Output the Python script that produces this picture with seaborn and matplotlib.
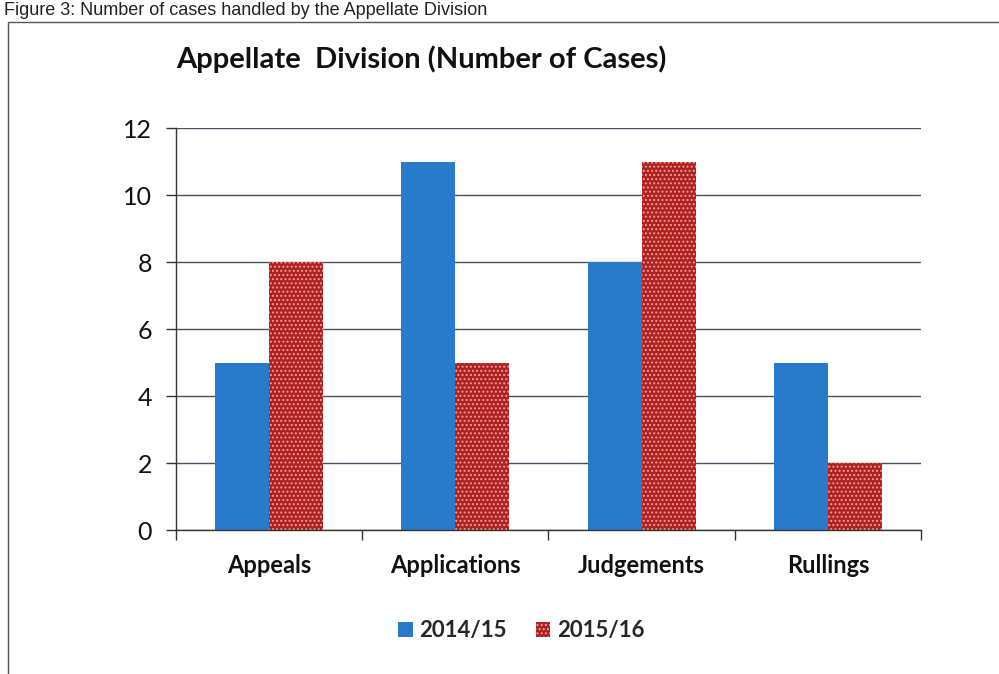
import matplotlib
matplotlib.use("Agg")
import matplotlib.pyplot as plt
import seaborn as sns
import pandas as pd
from matplotlib.patches import Patch, Rectangle

categories = ["Appeals", "Applications", "Judgements", "Rullings"]
series_names = ["2014/15", "2015/16"]
values_2014 = [5, 11, 8, 5]
values_2015 = [8, 5, 11, 2]
y_ticks = [0, 2, 4, 6, 8, 10, 12]
title = "Appellate  Division (Number of Cases)"
caption = "Figure 3: Number of cases handled by the Appellate Division"

df = pd.DataFrame({
    "category": categories * 2,
    "series": [series_names[0]] * 4 + [series_names[1]] * 4,
    "value": values_2014 + values_2015,
})

sns.set_theme(style="white")
plt.rcParams['font.family'] = ['Lato', 'DejaVu Sans']
plt.rcParams['hatch.linewidth'] = 0.9

BLUE = "#2a7acb"
RED = "#b02028"
DOT = "#f0a880"

fig = plt.figure(figsize=(9.99, 6.74), dpi=100)
ax = fig.add_axes([0.176, 0.2136, 0.746, 0.5964])

sns.barplot(data=df, x="category", y="value", hue="series",
            palette=[BLUE, RED], width=0.58, saturation=1, ax=ax,
            legend=False, linewidth=0)

for p in ax.patches:
    fc = p.get_facecolor()
    if fc[0] > 0.5:
        p.set_hatch("....")
        p.set_edgecolor(DOT)
        p.set_linewidth(0)

ax.set_ylim(0, 12)
ax.set_xlim(-0.5, 3.5)
ax.set_yticks(y_ticks)
ax.set_yticklabels([str(t) for t in y_ticks], fontsize=18, color="#111111")
ax.yaxis.grid(True, color="#4a5060", linewidth=1.0)
ax.set_axisbelow(True)
ax.set_xlabel("")
ax.set_ylabel("")

ax.set_xticks(range(len(categories)))
ax.set_xticklabels(categories, fontsize=17, fontweight="bold", color="#111111")
ax.set_xticks([-0.5, 0.5, 1.5, 2.5, 3.5], minor=True)
ax.tick_params(axis="x", which="major", length=0, pad=17)
ax.tick_params(axis="x", which="minor", length=7, width=1, color="#333333", direction="out", bottom=True)
ax.tick_params(axis="y", which="major", length=7, width=1, color="#333333", direction="out", left=True, pad=10)

for s in ["top", "right"]:
    ax.spines[s].set_visible(False)
for s in ["left", "bottom"]:
    ax.spines[s].set_color("#333333")
    ax.spines[s].set_linewidth(1.0)

fig.text(0.176, 0.912, title, fontsize=21, fontweight="bold", color="#111111",
         ha="left", va="center")

handles = [Patch(facecolor=BLUE, edgecolor=BLUE, linewidth=0),
           Patch(facecolor=RED, edgecolor=DOT, hatch="....", linewidth=0)]
fig.legend(handles, series_names, loc="center", bbox_to_anchor=(0.522, 0.064),
           ncol=2, frameon=False, prop={"weight": "bold", "size": 16},
           handlelength=0.65, handleheight=0.65, handletextpad=0.3, columnspacing=1.3)

fig.patches.append(Rectangle((0.008, -0.1), 1.2, 1.067, transform=fig.transFigure,
                             fill=False, edgecolor="#555555", linewidth=1.0))
fig.text(0.004, 1.0 - 15 / 674, caption, fontsize=13, color="#222222",
         ha="left", va="baseline", family=["Liberation Sans", "DejaVu Sans"])

fig.savefig("out.png", dpi=100)
